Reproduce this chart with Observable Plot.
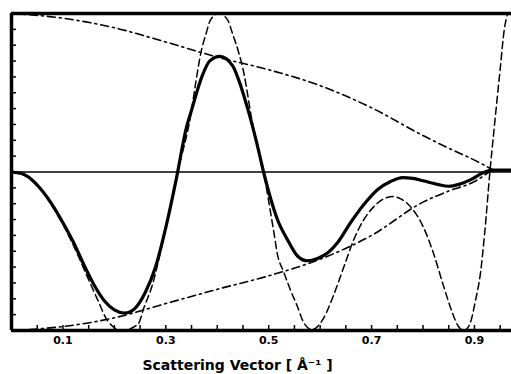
<!DOCTYPE html>
<html><head><meta charset="utf-8">
<script src="https://cdn.jsdelivr.net/npm/d3@7"></script>
<script src="https://cdn.jsdelivr.net/npm/@observablehq/plot@0.6"></script>
<style>body{margin:0;background:#fff}</style>
</head><body><div id="chart"></div>
<script>
// damped (thick solid) curve
const solidQ = [0,0.02,0.04,0.06,0.08,0.10,0.12,0.14,0.16,0.18,0.20,0.22,0.24,0.26,0.28,0.30,0.32,0.34,0.35,0.37,0.385,0.405,0.43,0.446,0.46,0.48,0.49,0.504,0.517,0.537,0.556,0.575,0.595,0.615,0.634,0.659,0.685,0.712,0.737,0.76,0.78,0.80,0.828,0.85,0.87,0.892,0.917,0.935,0.972];
const solidV = [0,-0.01,-0.05,-0.12,-0.21,-0.32,-0.44,-0.58,-0.71,-0.81,-0.87,-0.89,-0.86,-0.76,-0.60,-0.35,-0.05,0.28,0.39,0.60,0.70,0.73,0.67,0.54,0.39,0.14,0.0,-0.17,-0.30,-0.43,-0.53,-0.56,-0.545,-0.51,-0.445,-0.32,-0.205,-0.11,-0.06,-0.035,-0.04,-0.055,-0.078,-0.09,-0.078,-0.05,-0.005,0.012,0.012];
// undamped (thin dashed) curve
const dashQ = [0,0.04,0.08,0.12,0.15,0.168,0.187,0.215,0.246,0.257,0.275,0.29,0.323,0.349,0.358,0.368,0.378,0.387,0.403,0.42,0.43,0.442,0.452,0.459,0.465,0.49,0.51,0.517,0.529,0.543,0.556,0.568,0.585,0.607,0.627,0.646,0.665,0.685,0.704,0.723,0.743,0.757,0.776,0.801,0.82,0.84,0.855,0.868,0.88,0.892,0.902,0.912,0.92,0.93,0.94,0.95,0.958,0.965];
const dashV = [0,-0.05,-0.22,-0.46,-0.68,-0.81,-0.94,-1.0,-0.96,-0.86,-0.70,-0.50,0,0.37,0.56,0.75,0.87,0.96,1.0,0.96,0.87,0.75,0.62,0.49,0.37,0,-0.38,-0.52,-0.63,-0.75,-0.85,-0.95,-0.995,-0.92,-0.77,-0.60,-0.43,-0.30,-0.22,-0.17,-0.155,-0.17,-0.22,-0.35,-0.51,-0.72,-0.87,-0.97,-1.0,-0.95,-0.81,-0.63,-0.38,0.0,0.33,0.65,0.9,1.0];
// envelopes (dash-dot)
const upperQ = [0,0.1,0.2,0.3,0.4,0.5,0.6,0.7,0.8,0.85,0.9,0.935];
const upperV = [1.0,0.97,0.91,0.82,0.725,0.645,0.545,0.405,0.23,0.15,0.075,0.015];
const lowerQ = [0,0.1,0.2,0.3,0.4,0.5,0.6,0.7,0.8,0.85,0.9,0.935];
const lowerV = [-1.0,-0.975,-0.92,-0.83,-0.74,-0.655,-0.55,-0.40,-0.19,-0.12,-0.06,0.015];
// ticks
const xMinorTicks = d3.range(0, 20).map(i => i * 0.05);
const xLabelTicks = [0.1, 0.3, 0.5, 0.7, 0.9];
const yTicks = d3.range(-10, 11).map(i => i / 10);
const xTitle = "Scattering Vector [ Å⁻¹ ]";

const rows = (qs, vs) => qs.map((q, i) => ({q, v: vs[i]}));

const chart = Plot.plot({
  width: 511, height: 374,
  marginLeft: 11, marginRight: 0, marginTop: 13, marginBottom: 44,
  x: {domain: [0, 0.972]},
  y: {domain: [-1, 1]},
  style: {background: "white", color: "black", fontFamily: "DejaVu Sans"},
  marks: [
    Plot.ruleY([0], {strokeWidth: 1.6}),
    Plot.line(rows(upperQ, upperV), {x: "q", y: "v", strokeWidth: 1.6, strokeDasharray: "8,4,2,4", curve: "monotone-x"}),
    Plot.line(rows(lowerQ, lowerV), {x: "q", y: "v", strokeWidth: 1.6, strokeDasharray: "8,4,2,4", curve: "monotone-x"}),
    Plot.line(rows(dashQ, dashV), {x: "q", y: "v", strokeWidth: 1.5, strokeDasharray: "7,4", curve: "monotone-x"}),
    Plot.line(rows(solidQ, solidV), {x: "q", y: "v", strokeWidth: 3.2, curve: "monotone-x"}),
    Plot.ruleX([0], {strokeWidth: 3.5}),
    Plot.ruleY([-1, 1], {strokeWidth: 3.5}),
    Plot.axisX({ticks: xMinorTicks, tickSize: 5, dy: -5, tickFormat: () => "", label: null, strokeWidth: 1.5}),
    Plot.axisX({ticks: xLabelTicks, tickSize: 0, tickPadding: 6, tickFormat: d3.format(".1f"), label: null, fontSize: 11, fontWeight: "bold"}),
    Plot.axisY({ticks: yTicks, tickSize: 5, dx: 5, tickFormat: () => "", label: null, strokeWidth: 1.5}),
    Plot.text([xTitle], {frameAnchor: "bottom", lineAnchor: "bottom", dy: 39, dx: -24, fontSize: 14, fontWeight: "bold"})
  ]
});
document.getElementById("chart").appendChild(chart);
</script>
</body></html>
